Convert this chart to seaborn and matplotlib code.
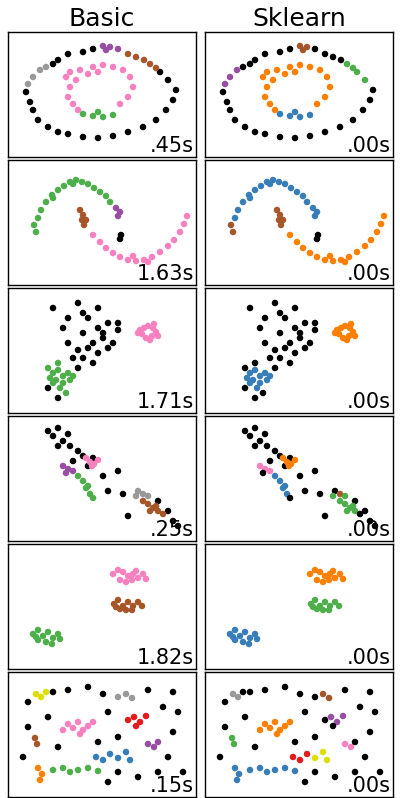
import matplotlib
matplotlib.use("Agg")
import matplotlib.pyplot as plt
import seaborn as sns
import pandas as pd

sns.set_style("white")
plt.rcParams['font.family'] = ['DejaVu Sans']
plt.rcParams['text.color'] = 'black'

COL = {'k':'#000000','b':'#377eb8','o':'#ff7f00','g':'#4daf4a','p':'#f781bf','n':'#a65628',
       'u':'#984ea3','y':'#999999','r':'#e41a1c','l':'#dede00'}

# row 1: noisy circles (x, y, basic label, sklearn label)
r1 = [(25,45,'y','u'),(32,38,'y','u'),(38,35,'y','k'),(20,52,'y','u'),
      (18,60,'k','k'),(22,70,'k','k'),(25,78,'k','k'),(30,88,'k','k'),(40,95,'k','k'),(50,100,'k','k'),
      (60,102,'k','k'),(75,105,'k','k'),(90,106,'k','k'),(105,104,'k','k'),(120,100,'k','k'),(135,95,'k','k'),
      (148,88,'k','k'),(158,78,'k','k'),(165,68,'k','k'),(168,58,'k','k'),(160,48,'k','g'),(152,40,'k','g'),
      (75,20,'k','k'),(85,17,'k','k'),(60,22,'k','k'),(50,28,'k','k'),(45,32,'k','k'),
      (95,14,'u','n'),(102,15,'u','n'),(110,17,'u','k'),(98,18,'u','n'),
      (120,22,'n','k'),(128,25,'n','k'),(136,28,'n','k'),(142,32,'n','g'),(148,36,'n','g'),
      (58,45,'p','o'),(62,55,'p','o'),(60,65,'p','o'),(65,72,'p','o'),(70,78,'p','o'),(62,40,'p','o'),
      (72,38,'p','o'),(85,35,'p','o'),(95,33,'p','o'),(105,35,'p','o'),(115,38,'p','o'),(122,45,'p','o'),
      (125,55,'p','o'),(120,65,'p','o'),(112,72,'p','o'),(80,42,'p','o'),(90,40,'p','o'),(68,48,'p','o'),
      (75,82,'g','b'),(85,84,'g','b'),(95,85,'g','b'),(105,83,'g','b'),(90,80,'g','b')]
# row 2: moons
r2 = [(28,72,'g','n'),(26,65,'g','n'),(30,58,'g','b'),(33,50,'g','b'),(38,42,'g','b'),(44,35,'g','b'),
      (50,30,'g','b'),(56,26,'g','b'),(62,22,'g','b'),(68,20,'g','b'),(74,22,'g','b'),(80,24,'g','b'),
      (86,28,'g','b'),(92,32,'g','b'),(98,36,'g','b'),(102,42,'g','b'),(65,24,'g','b'),(45,38,'g','b'),
      (72,50,'n','n'),(75,55,'n','n'),(78,60,'n','n'),(76,65,'n','n'),(74,60,'n','n'),
      (108,48,'u','b'),(112,52,'u','b'),(110,56,'u','b'),(113,75,'k','k'),(112,79,'k','k'),
      (85,75,'p','o'),(92,82,'p','o'),(98,88,'p','o'),(105,93,'p','o'),(112,97,'p','o'),(120,100,'p','o'),
      (128,101,'p','o'),(136,100,'p','o'),(144,97,'p','o'),(152,92,'p','o'),(160,86,'p','o'),(166,80,'p','o'),
      (172,72,'p','o'),(176,64,'p','o'),(179,56,'p','o'),(125,96,'p','o'),(140,102,'p','o')]
# row 3: varied blobs
r3 = [(132,42,'p','o'),(136,40,'p','o'),(140,38,'p','o'),(145,40,'p','o'),(148,44,'p','o'),(144,48,'p','o'),
      (138,50,'p','o'),(134,46,'p','o'),(142,52,'p','o'),(150,48,'p','o'),(130,45,'p','o'),(146,36,'p','o'),
      (45,20,'k','k'),(70,15,'k','k'),(75,25,'k','k'),(60,30,'k','k'),(80,30,'k','k'),(90,20,'k','k'),
      (55,40,'k','k'),(75,45,'k','k'),(90,40,'k','k'),(100,35,'k','k'),(110,42,'k','k'),(95,50,'k','k'),
      (85,55,'k','k'),(80,60,'k','k'),(70,62,'k','k'),(65,70,'k','k'),(100,60,'k','k'),(105,55,'k','k'),
      (90,65,'k','k'),(60,55,'k','k'),(75,70,'k','k'),(85,75,'k','k'),(95,45,'k','k'),(110,35,'k','k'),
      (70,80,'k','k'),(40,100,'k','k'),(50,110,'k','k'),
      (40,80,'g','k'),(45,85,'g','b'),(50,82,'g','b'),(55,88,'g','b'),(60,85,'g','b'),(48,92,'g','b'),
      (55,95,'g','b'),(62,92,'g','b'),(52,100,'g','b'),(58,105,'g','k'),(45,95,'g','b'),(65,88,'g','b'),
      (50,75,'g','k'),(42,90,'g','b')]
# row 4: anisotropic
r4 = [(40,15,'k','k'),(45,20,'k','k'),(50,12,'k','k'),(55,25,'k','k'),(60,18,'k','k'),(62,30,'k','k'),
      (50,30,'k','k'),(70,35,'k','k'),(75,40,'k','k'),(65,45,'k','k'),(80,50,'k','k'),(85,42,'k','k'),
      (95,60,'k','k'),(110,55,'k','k'),(100,75,'k','k'),(115,78,'k','k'),(120,100,'k','k'),(150,85,'k','k'),
      (160,95,'k','k'),(165,105,'k','k'),(170,110,'k','k'),
      (55,50,'u','p'),(60,53,'u','p'),(65,55,'u','p'),(58,57,'u','k'),
      (78,42,'p','o'),(82,46,'p','o'),(86,48,'p','o'),(90,44,'p','o'),(84,50,'p','o'),
      (70,60,'g','b'),(75,65,'g','b'),(78,72,'g','b'),(82,78,'g','b'),(85,82,'g','k'),(80,70,'g','b'),
      (130,75,'y','k'),(135,78,'y','n'),(140,80,'y','g'),(128,80,'y','g'),
      (135,85,'n','g'),(140,88,'n','g'),(145,92,'n','g'),(150,95,'n','g'),(142,95,'n','g'),(155,98,'n','k'),
      (148,90,'n','g')]
# row 5: blobs
r5 = [(105,30,'p','o'),(110,26,'p','o'),(115,28,'p','o'),(120,32,'p','o'),(125,30,'p','o'),(130,34,'p','o'),
      (135,30,'p','o'),(112,36,'p','o'),(118,38,'p','o'),(124,36,'p','o'),(128,27,'p','o'),(138,35,'p','o'),
      (106,60,'n','g'),(110,56,'n','g'),(115,62,'n','g'),(120,58,'n','g'),(125,62,'n','g'),(130,58,'n','g'),
      (112,65,'n','g'),(118,66,'n','g'),(124,66,'n','g'),(134,62,'n','g'),(108,63,'n','g'),
      (25,90,'g','b'),(30,86,'g','b'),(35,92,'g','b'),(40,88,'g','b'),(45,94,'g','b'),(50,90,'g','b'),
      (30,96,'g','b'),(38,98,'g','b'),(44,100,'g','b'),(28,93,'g','b'),(52,95,'g','b')]
# row 6: no structure
r6 = [(28,22,'l','y'),(33,25,'l','y'),(38,20,'l','k'),(110,25,'y','k'),(118,22,'y','n'),(124,26,'y','n'),
      (60,52,'p','o'),(65,56,'p','o'),(70,50,'p','o'),(75,58,'p','o'),(80,54,'p','o'),(72,62,'p','o'),
      (85,50,'p','o'),(55,58,'p','o'),(120,48,'r','k'),(126,45,'r','u'),(132,50,'r','u'),(138,44,'r','u'),
      (128,54,'r','k'),(140,72,'u','p'),(146,75,'u','p'),(150,70,'u','k'),
      (88,85,'b','r'),(95,88,'b','r'),(102,82,'b','r'),(110,86,'b','l'),(118,80,'b','l'),(122,88,'b','l'),
      (45,98,'g','b'),(55,96,'g','b'),(62,100,'g','b'),(70,98,'g','b'),(80,96,'g','b'),(90,99,'g','b'),
      (30,96,'o','b'),(34,102,'o','b'),(32,108,'o','b'),(27,66,'n','g'),(29,72,'n','g'),
      (20,30,'k','k'),(45,20,'k','k'),(60,18,'k','k'),(80,15,'k','k'),(95,22,'k','k'),(140,18,'k','k'),
      (165,20,'k','k'),(170,40,'k','k'),(155,35,'k','k'),(100,40,'k','k'),(40,45,'k','k'),(20,55,'k','k'),
      (50,75,'k','k'),(90,70,'k','k'),(110,65,'k','k'),(165,60,'k','k'),(160,85,'k','k'),(150,100,'k','k'),
      (130,105,'k','k'),(110,100,'k','k'),(15,85,'k','k'),(100,110,'k','k'),(175,100,'k','k')]

rows = [r1, r2, r3, r4, r5, r6]
basic_times = ['.45s', '1.63s', '1.71s', '.25s', '1.82s', '.15s']
sk_times = ['.00s'] * 6
titles = ['Basic', 'Sklearn']

fig = plt.figure(figsize=(4.0, 7.98), dpi=100)
W, H = 400, 798
lefts = [8, 205]
tops = [32, 160, 288, 416, 544, 672]
pw, ph = 188, 125
for i, r in enumerate(rows):
    df = pd.DataFrame(r, columns=['x', 'y', 'basic', 'sk'])
    for j, (key, times) in enumerate([('basic', basic_times), ('sk', sk_times)]):
        ax = fig.add_axes([lefts[j]/W, 1-(tops[i]+ph)/H, pw/W, ph/H])
        sns.scatterplot(data=df, x='x', y='y', hue=key, palette=COL, s=22,
                        edgecolor='none', legend=False, ax=ax)
        ax.set_xlim(0, 188); ax.set_ylim(125, 0)
        ax.set_xticks([]); ax.set_yticks([]); ax.set_xlabel(''); ax.set_ylabel('')
        for s in ax.spines.values():
            s.set_visible(True); s.set_color('black'); s.set_linewidth(1)
        ax.text(0.99, 0.01, times[i], transform=ax.transAxes, ha='right', va='bottom',
                fontsize=15, color='black')
        if i == 0:
            ax.set_title(titles[j], fontsize=18, pad=4, color='black')
fig.savefig('out.png', dpi=100)
